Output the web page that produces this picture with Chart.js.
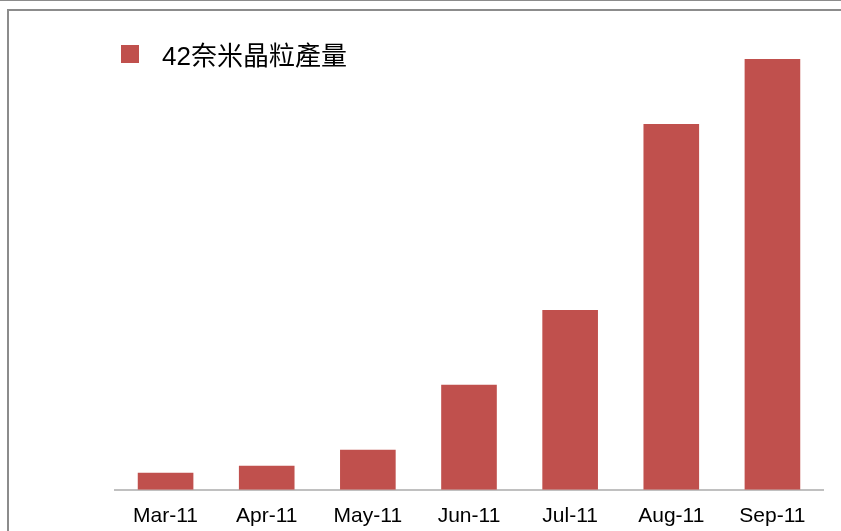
<!DOCTYPE html>
<html>
<head>
<meta charset="utf-8">
<script src="https://cdn.jsdelivr.net/npm/chart.js@4"></script>
<style>
  html, body { margin: 0; padding: 0; background: #fff; }
  .wrap { position: relative; width: 841px; height: 531px; overflow: hidden; }
  .topline { position: absolute; left: 0; top: 0; width: 841px; height: 1px; background: #8c8c8c; }
  .frame { position: absolute; left: 7px; top: 9px; width: 840px; height: 540px;
           border-top: 2px solid #8c8c8c; border-left: 2px solid #8c8c8c; }
  canvas { position: absolute; left: 0; top: 0; }
  .legend { position: absolute; left: 121px; top: 35px; display: flex; align-items: center;
            font-family: "Liberation Sans", Arial, "Noto Sans CJK TC", sans-serif; font-size: 26px; color: #000; }
  .legend-dot { width: 18px; height: 18px; background: #C0504D; margin-right: 23px; }
</style>
</head>
<body>
<div class="wrap">
  <div class="topline"></div>
  <div class="frame"></div>
  <canvas id="barChart" width="841" height="531"></canvas>
  <div class="legend" id="legend"></div>
</div>
<script>
// ── DATA ──
const months = ['Mar-11', 'Apr-11', 'May-11', 'Jun-11', 'Jul-11', 'Aug-11', 'Sep-11'];
const output42nm = [17, 24, 40, 105, 180, 366, 431];
const seriesName = '42奈米晶粒產量';
const barColor = '#C0504D';

// Legend
const legendEl = document.getElementById('legend');
legendEl.innerHTML = `<div class="legend-dot"></div><span>${seriesName}</span>`;

// ── BAR CHART ──
const ctx = document.getElementById('barChart').getContext('2d');
new Chart(ctx, {
    type: 'bar',
    data: {
        labels: months,
        datasets: [{
            label: seriesName,
            data: output42nm,
            backgroundColor: barColor,
            borderWidth: 0,
            categoryPercentage: 1,
            barPercentage: 0.55,
        }]
    },
    options: {
        responsive: false, animation: false,
        layout: { padding: { left: 115, right: 18, top: 40, bottom: -12 } },
        plugins: { legend: { display: false }, tooltip: { enabled: false } },
        scales: {
            x: {
                grid: { display: false, drawTicks: false },
                border: { display: true, color: '#c0c0c0', width: 2 },
                ticks: { padding: 14, color: '#000', font: { family: '"Liberation Sans", Arial, sans-serif', size: 21 } }
            },
            y: { display: false, min: 0, max: 450 }
        }
    }
});
</script>
</body>
</html>
